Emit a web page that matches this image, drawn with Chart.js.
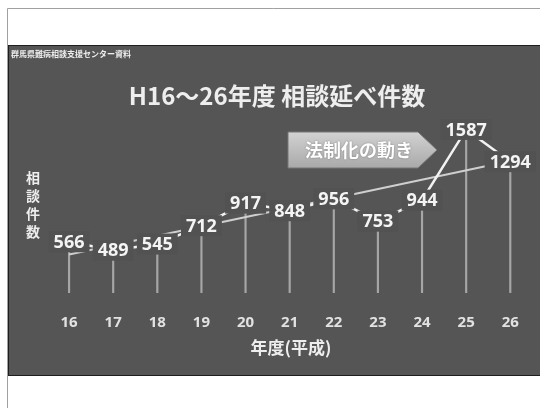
<!DOCTYPE html>
<html><head><meta charset="utf-8">
<script src="https://cdn.jsdelivr.net/npm/chart.js@4"></script>
<style>html,body{margin:0;padding:0;background:#fff;}#wrap{width:540px;height:408px;position:relative}</style>
</head><body><div id="wrap"><canvas id="c" width="540" height="408"></canvas></div>
<script>
const categories = ['16','17','18','19','20','21','22','23','24','25','26'];
const consultCounts = [566,489,545,712,917,848,956,753,944,1587,1294];
const trendEnds = [450, 1300];
const sourceNote = '群馬県難病相談支援センター資料';
const titleText = 'H16～26年度 相談延べ件数';
const calloutText = '法制化の動き';
const yTitleText = '相談件数';
const xTitleText = '年度(平成)';

const SLIDE_BG = '#555555';
const CJK = '"Noto Sans CJK JP", "Noto Sans CJK SC", sans-serif';

const bgPlugin = {
  id: 'bg',
  beforeDraw(chart) {
    const c = chart.ctx;
    c.save();
    c.fillStyle = '#ffffff';
    c.fillRect(0, 0, 540, 408);
    c.strokeStyle = '#a0a0a0';
    c.lineWidth = 1;
    c.beginPath();
    c.moveTo(7.5, 408); c.lineTo(7.5, 8.5); c.lineTo(540, 8.5);
    c.stroke();
    c.fillStyle = SLIDE_BG;
    c.fillRect(8, 45, 532, 331);
    c.strokeStyle = '#1e1e1e';
    c.strokeRect(8.5, 45.5, 532, 330);
    c.restore();
  }
};

const labelPlugin = {
  id: 'vlabels',
  afterDatasetsDraw(chart) {
    const c = chart.ctx;
    const meta = chart.getDatasetMeta(0);
    c.save();
    c.font = 'bold 18px "Open Sans", "DejaVu Sans", sans-serif';
    c.textAlign = 'center';
    c.textBaseline = 'middle';
    meta.data.forEach((pt, i) => {
      const txt = String(consultCounts[i]);
      const w = c.measureText(txt).width + 10;
      const h = 21;
      c.fillStyle = '#525252';
      c.fillRect(pt.x - w / 2, pt.y - h / 2, w, h);
      c.fillStyle = '#f4f4f4';
      c.fillText(txt, pt.x, pt.y + 1);
    });
    c.restore();
  }
};

const textPlugin = {
  id: 'texts',
  afterDraw(chart) {
    const c = chart.ctx;
    c.save();
    c.fillStyle = '#eeeeee';
    c.font = 'bold 8px ' + CJK;
    c.textAlign = 'left';
    c.textBaseline = 'middle';
    c.fillText(sourceNote, 11, 54);
    c.font = 'bold 24px ' + CJK;
    c.textAlign = 'center';
    c.fillStyle = '#eeeeee';
    c.fillText(titleText, 277, 96);
    const g = c.createLinearGradient(0, 132, 0, 168);
    g.addColorStop(0, '#d2d2d2');
    g.addColorStop(1, '#a9a9a9');
    c.beginPath();
    c.moveTo(288, 132); c.lineTo(418, 132); c.lineTo(437, 150); c.lineTo(418, 168); c.lineTo(288, 168); c.closePath();
    c.fillStyle = g; c.fill();
    c.strokeStyle = '#777'; c.lineWidth = 1; c.stroke();
    c.font = 'bold 18px ' + CJK;
    c.fillStyle = '#ffffff';
    c.shadowColor = 'rgba(0,0,0,0.35)'; c.shadowBlur = 2;
    c.fillText(calloutText, 359, 150);
    c.shadowBlur = 0;
    c.font = 'bold 14px ' + CJK;
    c.fillStyle = '#eeeeee';
    [...yTitleText].forEach((ch, i) => c.fillText(ch, 33, 178 + i * 18));
    c.font = 'bold 17px ' + CJK;
    c.fillText(xTitleText, 291, 348);
    c.restore();
  }
};

new Chart(document.getElementById('c'), {
  type: 'bar',
  data: {
    labels: categories,
    datasets: [
      { type: 'line', label: '相談延べ件数', data: consultCounts, borderColor: '#f2f2f2', borderWidth: 2.5, pointRadius: 0, order: 1 },
      { type: 'line', label: 'trend', data: [{ x: categories[0], y: trendEnds[0] }, { x: categories[categories.length - 1], y: trendEnds[1] }], borderColor: '#cfcfcf', borderWidth: 2, pointRadius: 0, order: 2 },
      { type: 'bar', label: 'drop', data: consultCounts, backgroundColor: '#a6a6a6', barThickness: 1.5, order: 3 }
    ]
  },
  options: {
    responsive: false, animation: false, devicePixelRatio: 1,
    layout: { padding: { left: 47, right: 3, top: 117, bottom: 55 } },
    plugins: { legend: { display: false }, tooltip: { enabled: false } },
    scales: {
      x: { offset: true, grid: { display: false, drawTicks: false }, border: { display: false },
           ticks: { color: '#e2e2e2', font: { family: '"Open Sans"', size: 15, weight: 'bold' }, padding: 21, maxRotation: 0 } },
      y: { display: false, min: 100, max: 1700 }
    }
  },
  plugins: [bgPlugin, labelPlugin, textPlugin]
});
</script></body></html>
